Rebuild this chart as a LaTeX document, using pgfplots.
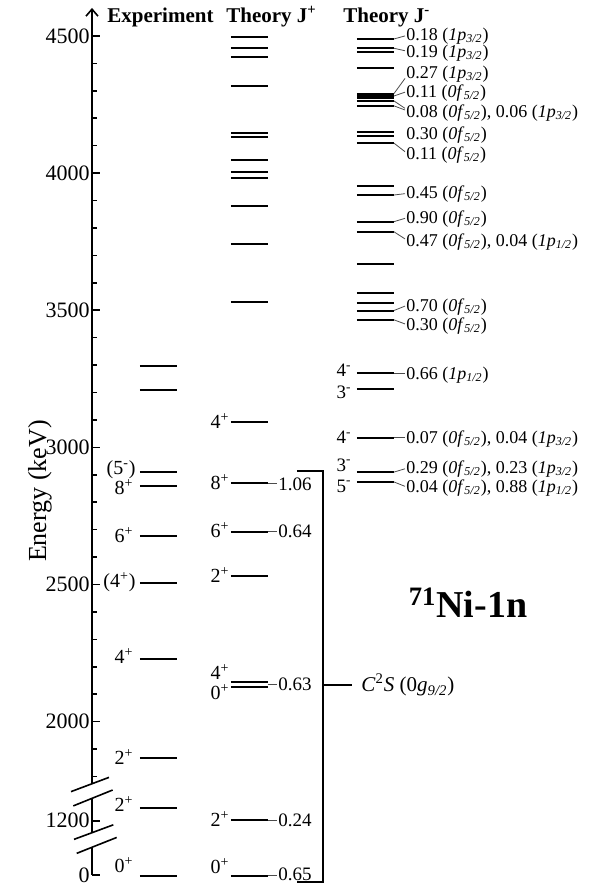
\documentclass[border=0pt]{standalone}
\usepackage{fontspec}
\setmainfont{Liberation Serif}
\usepackage{pgfplots}
\pgfplotsset{compat=1.18}
\usetikzlibrary{arrows.meta}

\newcommand{\fs}[1]{\fontsize{#1}{#1}\selectfont}
\newcommand{\orb}[2]{\textit{#1}\textsubscript{\textit{#2}}}
\newcommand{\p}{\textsuperscript{+}}
\newcommand{\m}{\textsuperscript{-}}

% one level = one short horizontal line
\pgfplotsset{lev/.style={black, line width=1pt, no markers}}
\newcommand{\lev}[3]{\addplot[lev] coordinates {(#1,#3) (#2,#3)};}
\newcommand{\ex}[1]{\lev{140}{177}{#1}}
\newcommand{\tp}[1]{\lev{231}{268}{#1}}
\newcommand{\tm}[1]{\lev{357}{394}{#1}}

\begin{document}
\begin{tikzpicture}[
    conn/.style={black!70, line width=0.4pt},
    sf/.style={anchor=base west, font=\fs{9}, inner sep=0pt, yshift=-3pt},
    sfp/.style={anchor=base west, font=\fs{9.5}, inner sep=0pt, yshift=-3.1pt},
    spin/.style={anchor=base east, font=\fs{10}, inner sep=0pt, yshift=-3.4pt},
    head/.style={anchor=west, font=\fs{10.5}\bfseries, inner sep=0pt},
  ]
\begin{axis}[
    scale only axis,
    width=254pt, height=443pt,
    xmin=92, xmax=600,
    ymin=1401, ymax=4631,
    axis x line=none,
    axis y line=left,
    y axis line style={draw=none},
    xtick=\empty,
    ytick align=inside,
    ytick={1441,1639,2000,2500,3000,3500,4000,4500},
    yticklabels={0,1200,2000,2500,3000,3500,4000,4500},
    minor ytick={1800,1900,2100,2200,2300,2400,2600,2700,2800,2900,3100,3200,3300,3400,3600,3700,3800,3900,4100,4200,4300,4400},
    major tick length=4pt,
    minor tick length=2.3pt,
    every tick/.style={black, line width=0.8pt},
    yticklabel style={font=\fs{11}, inner sep=1pt},
    ylabel={Energy (keV)},
    ylabel style={at={(axis description cs:-0.1024,0.4458)}, anchor=center, font=\fs{13}},
    clip=false,
  ]
  \coordinate (bl) at (axis cs:0,1401);
  \coordinate (tr) at (axis cs:600,4631);

  % broken energy axis
  \draw[line width=0.8pt, -{Straight Barb[length=3.5pt,width=6pt]}]
    (axis cs:92,1774) -- (axis cs:92,4602);
  \draw[line width=0.8pt] (axis cs:92,1720) -- (axis cs:92,1595);
  \draw[line width=0.8pt] (axis cs:92,1542) -- (axis cs:92,1441);
  \draw[line width=0.8pt] (axis cs:71,1745) -- (axis cs:109,1797);
  \draw[line width=0.8pt] (axis cs:73.3,1693) -- (axis cs:112.7,1751);
  \draw[line width=0.8pt] (axis cs:74,1571) -- (axis cs:113.3,1624);
  \draw[line width=0.8pt] (axis cs:76.7,1520) -- (axis cs:116.7,1578);

  % headers
  \node[head] at (axis cs:107,4569) {Experiment};
  \node[head] at (axis cs:226,4569) {Theory J\p};
  \node[head] at (axis cs:343,4569) {Theory J\m};

  % experiment
  \ex{3297} \ex{3208} \ex{2910} \ex{2860} \ex{2677}
  \ex{2507} \ex{2228} \ex{1867} \ex{1686} \ex{1438}
  \node[spin] at (axis cs:136,2925) {(5\m)};
  \node[spin] at (axis cs:134,2852) {8\p};
  \node[spin] at (axis cs:134,2677) {6\p};
  \node[spin] at (axis cs:136,2513) {(4\p)};
  \node[spin] at (axis cs:134,2236) {4\p};
  \node[spin] at (axis cs:134,1868) {2\p};
  \node[spin] at (axis cs:134,1696) {2\p};
  \node[spin] at (axis cs:134,1474) {0\p};

  % theory, positive parity
  \tp{4496} \tp{4457} \tp{4424} \tp{4317} \tp{4147} \tp{4132}
  \tp{4047} \tp{4003} \tp{3981} \tp{3880} \tp{3742} \tp{3529}
  \tp{3092} \tp{2869} \tp{2693} \tp{2531} \tp{2143} \tp{2127}
  \tp{1640} \tp{1438}
  \node[spin] at (axis cs:230,3092) {4\p};
  \node[spin] at (axis cs:230,2870) {8\p};
  \node[spin] at (axis cs:230,2695) {6\p};
  \node[spin] at (axis cs:230,2531) {2\p};
  \node[spin] at (axis cs:230,2177) {4\p};
  \node[spin] at (axis cs:230,2105) {0\p};
  \node[spin] at (axis cs:230,1642) {2\p};
  \node[spin] at (axis cs:230,1471) {0\p};
  \draw[conn] (axis cs:268,2869) -- (axis cs:277,2869);
  \draw[conn] (axis cs:268,2693) -- (axis cs:277,2693);
  \draw[conn] (axis cs:268,2135) -- (axis cs:277,2135);
  \draw[conn] (axis cs:268,1640) -- (axis cs:277,1640);
  \draw[conn] (axis cs:268,1438) -- (axis cs:277,1438);
  \node[sfp] at (axis cs:278,2866) {1.06};
  \node[sfp] at (axis cs:278,2693) {0.64};
  \node[sfp] at (axis cs:278,2135) {0.63};
  \node[sfp] at (axis cs:278,1640) {0.24};
  \node[sfp] at (axis cs:278,1444) {0.65};

  % sum bracket
  \draw[line width=1.1pt] (axis cs:297,2915) -- (axis cs:323,2915)
    -- (axis cs:323,1417) -- (axis cs:297,1417);
  \draw[line width=1.1pt] (axis cs:323,2134) -- (axis cs:352,2134);
  \node[anchor=base west, font=\fs{10.5}, inner sep=0pt, yshift=-3.5pt]
    at (axis cs:361,2134) {\textit{C}\textsuperscript{2}\textit{S} (0\orb{g}{9/2})};

  % theory, negative parity
  \tm{4489} \tm{4455} \tm{4443} \tm{4382} \tm{4290} \tm{4281}
  \tm{4272} \tm{4263} \tm{4245} \tm{4151} \tm{4135} \tm{4109}
  \tm{3953} \tm{3920} \tm{3823} \tm{3786} \tm{3668} \tm{3562}
  \tm{3528} \tm{3499} \tm{3465} \tm{3270} \tm{3212} \tm{3035}
  \tm{2910} \tm{2874}
  \node[spin, font=\fs{9.5}] at (axis cs:352,3282) {4\m};
  \node[spin, font=\fs{9.5}] at (axis cs:352,3202) {3\m};
  \node[spin, font=\fs{9.5}] at (axis cs:352,3038) {4\m};
  \node[spin, font=\fs{9.5}] at (axis cs:352,2938) {3\m};
  \node[spin, font=\fs{9.5}] at (axis cs:352,2860) {5\m};

  \draw[conn] (axis cs:394,4489) -- (axis cs:405,4500);
  \draw[conn] (axis cs:394,4455) -- (axis cs:405,4446);
  \draw[conn] (axis cs:394,4290) -- (axis cs:405,4345);
  \draw[conn] (axis cs:394,4281) -- (axis cs:405,4295);
  \draw[conn] (axis cs:394,4263) -- (axis cs:405,4236);
  \draw[conn] (axis cs:394,4245) -- (axis cs:405,4230);
  \draw[conn] (axis cs:394,4109) -- (axis cs:405,4078);
  \draw[conn] (axis cs:394,3920) -- (axis cs:405,3925);
  \draw[conn] (axis cs:394,3823) -- (axis cs:405,3835);
  \draw[conn] (axis cs:394,3786) -- (axis cs:405,3760);
  \draw[conn] (axis cs:394,3499) -- (axis cs:405,3515);
  \draw[conn] (axis cs:394,3465) -- (axis cs:405,3450);
  \draw[conn] (axis cs:394,3270) -- (axis cs:405,3270);
  \draw[conn] (axis cs:394,3035) -- (axis cs:405,3035);
  \draw[conn] (axis cs:394,2910) -- (axis cs:405,2922);
  \draw[conn] (axis cs:394,2874) -- (axis cs:405,2858);

  \node[sf] at (axis cs:406,4507) {0.18 (\orb{1p}{3/2})};
  \node[sf] at (axis cs:406,4442) {0.19 (\orb{1p}{3/2})};
  \node[sf] at (axis cs:406,4365) {0.27 (\orb{1p}{3/2})};
  \node[sf] at (axis cs:406,4299) {0.11 (\orb{0f}{5/2})};
  \node[sf] at (axis cs:406,4223) {0.08 (\orb{0f}{5/2}), 0.06 (\orb{1p}{3/2})};
  \node[sf] at (axis cs:406,4146) {0.30 (\orb{0f}{5/2})};
  \node[sf] at (axis cs:406,4070) {0.11 (\orb{0f}{5/2})};
  \node[sf] at (axis cs:406,3929) {0.45 (\orb{0f}{5/2})};
  \node[sf] at (axis cs:406,3838) {0.90 (\orb{0f}{5/2})};
  \node[sf] at (axis cs:406,3756) {0.47 (\orb{0f}{5/2}), 0.04 (\orb{1p}{1/2})};
  \node[sf] at (axis cs:406,3519) {0.70 (\orb{0f}{5/2})};
  \node[sf] at (axis cs:406,3447) {0.30 (\orb{0f}{5/2})};
  \node[sf] at (axis cs:406,3271) {0.66 (\orb{1p}{1/2})};
  \node[sf] at (axis cs:406,3035) {0.07 (\orb{0f}{5/2}), 0.04 (\orb{1p}{3/2})};
  \node[sf] at (axis cs:406,2925) {0.29 (\orb{0f}{5/2}), 0.23 (\orb{1p}{3/2})};
  \node[sf] at (axis cs:406,2856) {0.04 (\orb{0f}{5/2}), 0.88 (\orb{1p}{1/2})};

  % nucleus
  \node[font=\fs{19}\bfseries] at (axis cs:468,2433) {\textsuperscript{71}Ni-1n};
\end{axis}
\pgfresetboundingbox
\path (bl) rectangle (tr);
\end{tikzpicture}
\end{document}
